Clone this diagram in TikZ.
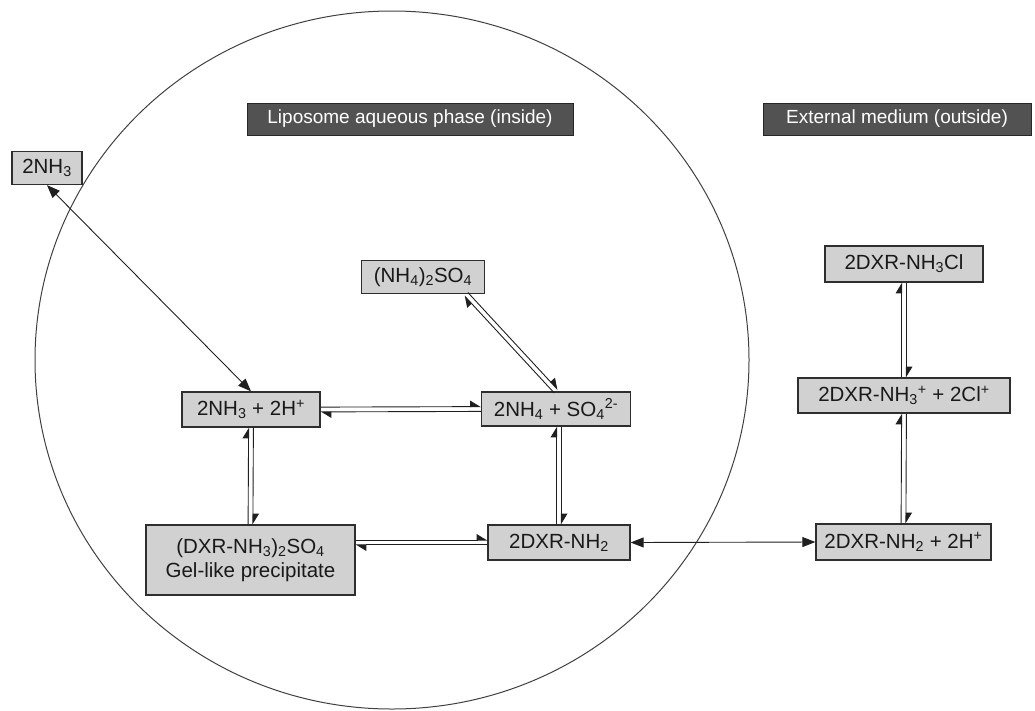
\documentclass[tikz,border=0pt]{standalone}
\usepackage{fontspec}
\setmainfont{Liberation Sans}
\usetikzlibrary{arrows.meta,calc}
\newcommand\eqarrow[2]{%
  \draw[harp] ($(#1)!2.4pt!90:(#2)$) -- ($(#2)!2.4pt!-90:(#1)$);
  \draw[harp] ($(#2)!2.4pt!90:(#1)$) -- ($(#1)!2.4pt!-90:(#2)$);}
\begin{document}
\begin{tikzpicture}[x=1pt,y=-1pt,
  box/.style={draw=black!82, fill=black!18, line width=1.3pt, inner sep=0pt,
    text=black!90, font=\fontsize{20.5}{24}\selectfont, align=center},
  hdr/.style={draw=black!85, fill=black!68, text=white, line width=1pt,
    inner sep=0pt, font=\fontsize{19}{22}\selectfont},
  harp/.style={line width=0.9pt, draw=black!88,
    -{Triangle[left,length=10pt,width=12pt]}},
  dbl/.style={line width=0.9pt, draw=black!88,
    {Triangle[length=13pt,width=10pt]}-{Triangle[length=13pt,width=10pt]}}]
\useasboundingbox (0,0) rectangle (1035,710);
% liposome
\draw[line width=1pt, black!75] (392,360) ellipse [x radius=357, y radius=349];
% headers
\node[hdr, minimum width=326pt, minimum height=32pt] (hdrin) at (410,119) {Liposome aqueous phase (inside)};
\node[hdr, minimum width=268pt, minimum height=32pt] (hdrout) at (897,119) {External medium (outside)};
% boxes
\node[box, minimum width=70pt, minimum height=33pt] (nh3out) at (47,168) {2NH\textsubscript{3}};
\node[box, minimum width=123pt, minimum height=33pt] (nh4so4) at (423,277) {(NH\textsubscript{4})\textsubscript{2}SO\textsubscript{4}};
\node[box, minimum width=158pt, minimum height=36pt] (dxrcl) at (904,264) {2DXR-NH\textsubscript{3}Cl};
\node[box, minimum width=138pt, minimum height=35pt] (n3h) at (251,409.5) {2NH\textsubscript{3} + 2H\textsuperscript{+}};
\node[box, minimum width=149pt, minimum height=34pt] (n4) at (556,409) {2NH\textsubscript{4} + SO\textsubscript{4}\textsuperscript{2-}};
\node[box, minimum width=212pt, minimum height=35pt] (dxrp) at (904,395.5) {2DXR-NH\textsubscript{3}\textsuperscript{+} + 2Cl\textsuperscript{+}};
\node[box, minimum width=209pt, minimum height=70pt] (gel) at (250.5,560) {(DXR-NH\textsubscript{3})\textsubscript{2}SO\textsubscript{4}\\Gel-like precipitate};
\node[box, minimum width=142pt, minimum height=35pt] (dxr) at (559,542.5) {2DXR-NH\textsubscript{2}};
\node[box, minimum width=175pt, minimum height=36pt] (dxrh) at (903.5,542) {2DXR-NH\textsubscript{2} + 2H\textsuperscript{+}};
% helper points
\coordinate (d1) at ($(nh4so4.south east)+(-19,0)$);
\coordinate (v1) at (n4.south -| dxr.north);
\coordinate (g1) at (gel.east |- dxr.west);
% connectors
\draw[dbl] (nh3out.south) -- (n3h.north);
\draw[dbl] (dxr.east) -- (dxrh.west);
\eqarrow{n3h.east}{n4.west}
\eqarrow{d1}{n4.north}
\eqarrow{v1}{dxr.north}
\eqarrow{n3h.south}{gel.north}
\eqarrow{g1}{dxr.west}
\eqarrow{dxrcl.south}{dxrp.north}
\eqarrow{dxrp.south}{dxrh.north}
\end{tikzpicture}
\end{document}
